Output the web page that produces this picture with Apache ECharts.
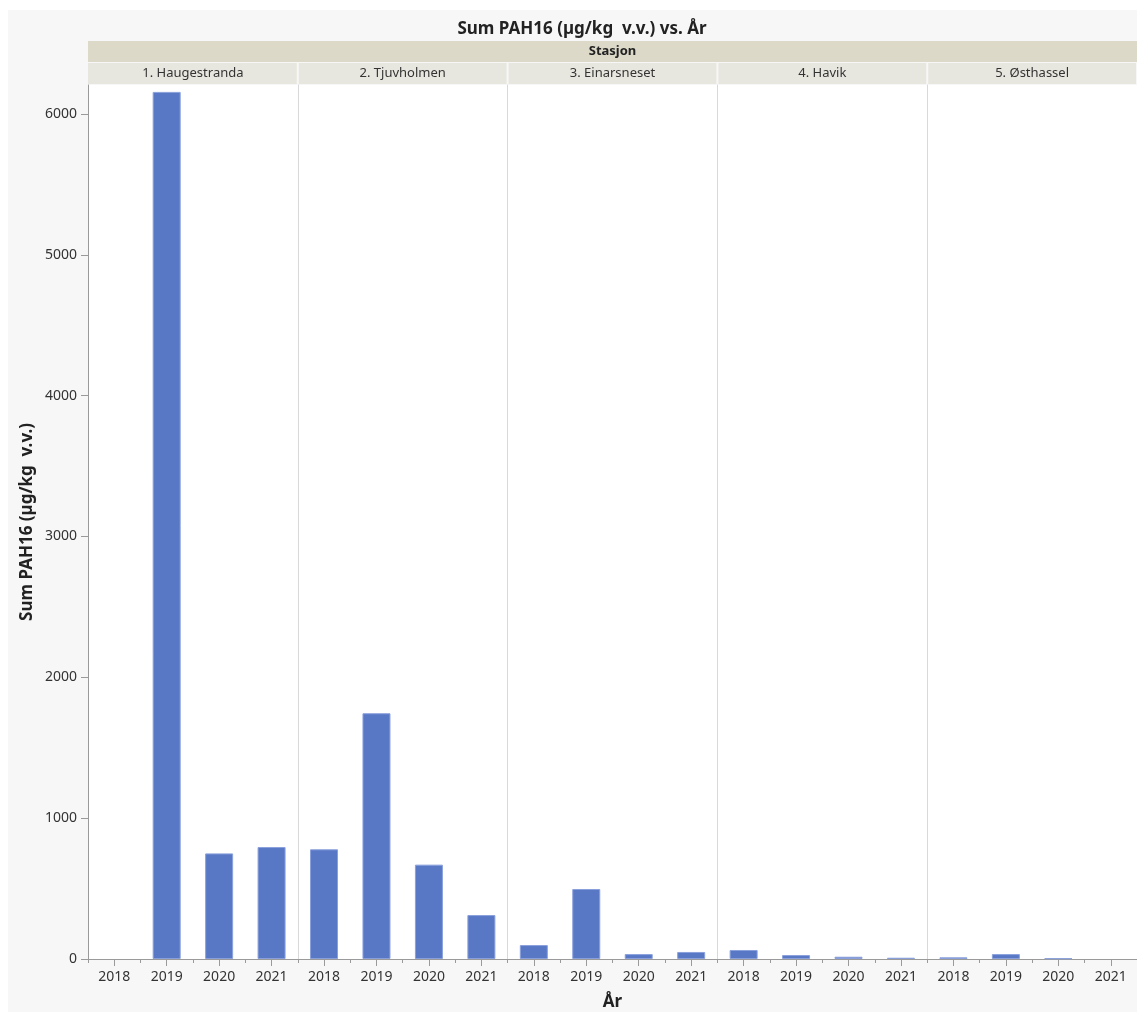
<!DOCTYPE html>
<html>
<head>
<meta charset="utf-8">
<script src="https://cdn.jsdelivr.net/npm/echarts@6/dist/echarts.min.js"></script>
<style>html,body{margin:0;padding:0;background:#fff;}#c{width:1137px;height:1014px;}</style>
</head>
<body>
<div id="c"></div>
<script>
// ---- data ----
const stations = ['1. Haugestranda', '2. Tjuvholmen', '3. Einarsneset', '4. Havik', '5. Østhassel'];
const years = ['2018', '2019', '2020', '2021'];
const haugestranda = [null, 6157, 750, 795];
const tjuvholmen = [779, 1745, 670, 312];
const einarsneset = [99, 497, 35, 50];
const havik = [64, 28, 16, 9];
const osthassel = [12, 35, 5, null];
const yTicks = [0, 1000, 2000, 3000, 4000, 5000, 6000];
const yMax = 6206;

const seriesValues = [haugestranda, tjuvholmen, einarsneset, havik, osthassel];

// ---- layout ----
const plotLeft = 88, plotRight = 1137, plotTop = 85, plotBottom = 959;
const panelW = (plotRight - plotLeft) / stations.length;
const FONT = '"Noto Sans", "DejaVu Sans", sans-serif';

const grids = [], xAxes = [], yAxes = [], series = [], graphics = [];

graphics.push({ type: 'rect', shape: { x: 8, y: 10, width: 1129, height: 1002 }, style: { fill: '#f7f7f7' }, z: -10, silent: true });
graphics.push({ type: 'rect', shape: { x: plotLeft, y: 41, width: plotRight - plotLeft, height: 21 }, style: { fill: '#dcd9c8' }, silent: true });
graphics.push({ type: 'text', x: (plotLeft + plotRight) / 2, y: 51.5, style: { text: 'Stasjon', fill: '#222', font: 'bold 13px ' + FONT, align: 'center', verticalAlign: 'middle' }, silent: true });

stations.forEach((st, i) => {
  const left = plotLeft + i * panelW;
  grids.push({ left: left, top: plotTop, width: panelW, height: plotBottom - plotTop, show: true, backgroundColor: '#fff', borderWidth: 0, containLabel: false, outerBoundsMode: 'none' });
  graphics.push({ type: 'rect', shape: { x: left + (i ? 1 : 0), y: 63, width: panelW - (i ? 1 : 0) - 1, height: 21 }, style: { fill: '#e8e7df' }, silent: true });
  graphics.push({ type: 'text', x: left + panelW / 2, y: 73.5, style: { text: st, fill: '#333', font: '13px ' + FONT, align: 'center', verticalAlign: 'middle' }, silent: true });

  xAxes.push({
    type: 'category', gridIndex: i, data: years, position: 'bottom', boundaryGap: true,
    axisLine: { show: true, onZero: false, lineStyle: { color: '#9a9a9a', width: 1 } },
    axisTick: { show: true, length: 4, lineStyle: { color: '#9a9a9a' } },
    axisLabel: { show: true, color: '#333', fontSize: 14, fontFamily: FONT, margin: 11 },
    name: i === 2 ? 'År' : '', nameLocation: 'middle', nameGap: 35,
    nameTextStyle: { fontSize: 17, fontWeight: 'bold', color: '#222', fontFamily: FONT }
  });
  xAxes.push({
    type: 'category', gridIndex: i, data: years, position: 'bottom', boundaryGap: true,
    axisLine: { show: false, onZero: false },
    axisTick: { show: true, alignWithLabel: true, length: 7, lineStyle: { color: '#9a9a9a' } },
    axisLabel: { show: false }
  });

  yAxes.push({
    type: 'value', gridIndex: i, min: 0, max: yMax, interval: 1000,
    splitLine: { show: false },
    axisLine: { show: true, lineStyle: { color: i === 0 ? '#9a9a9a' : '#d9d9d9', width: 1 } },
    axisTick: { show: i === 0, length: 7, lineStyle: { color: '#9a9a9a' }, customValues: yTicks },
    axisLabel: { show: i === 0, color: '#333', fontSize: 14, fontFamily: FONT, margin: 11, customValues: yTicks,
      formatter: v => String(v) },
    name: i === 0 ? 'Sum PAH16 (µg/kg  v.v.)' : '', nameLocation: 'middle', nameGap: 52,
    nameTextStyle: { fontSize: 17, fontWeight: 'bold', color: '#222', fontFamily: FONT }
  });

  series.push({
    type: 'bar', xAxisIndex: i * 2, yAxisIndex: i, data: seriesValues[i], barWidth: 28,
    itemStyle: { color: '#5878c6', borderColor: '#8aa0dc', borderWidth: 1 },
    emphasis: { disabled: true }
  });
});

const chart = echarts.init(document.getElementById('c'), null, { renderer: 'canvas' });
chart.setOption({
  animation: false,
  backgroundColor: '#ffffff',
  title: { text: 'Sum PAH16 (µg/kg  v.v.) vs. År', left: 577, textAlign: 'center', top: 16,
    textStyle: { fontSize: 17, fontWeight: 'bold', color: '#222', fontFamily: FONT } },
  grid: grids, xAxis: xAxes, yAxis: yAxes, series: series,
  graphic: graphics
});
</script>
</body>
</html>
